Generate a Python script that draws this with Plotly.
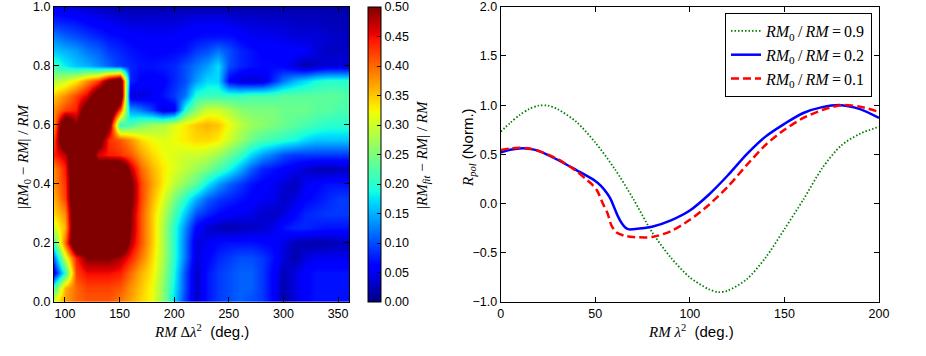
import plotly.graph_objects as go

W, H = 926, 356

# ---------------- left panel: |RM_fit - RM| / RM map ----------------
rm_dlam2 = [90, 100, 110, 120, 130, 140, 150, 160, 170, 180, 190, 200, 210, 220,
            230, 240, 250, 260, 270, 280, 290, 300, 310, 320, 330, 340, 350, 360]
rm_ratio = [1.0, 0.95, 0.9, 0.85, 0.8, 0.75, 0.7, 0.65, 0.6, 0.55, 0.5,
            0.45, 0.4, 0.35, 0.3, 0.25, 0.2, 0.15, 0.1, 0.05, 0.0]
# one row per rm_ratio value (top of the map first)
fit_err = [
    [0.05, 0.045, 0.04, 0.035, 0.03, 0.025, 0.02, 0.02, 0.02, 0.02, 0.02, 0.02, 0.02, 0.02,
     0.02, 0.02, 0.02, 0.02, 0.02, 0.02, 0.02, 0.02, 0.02, 0.02, 0.02, 0.02, 0.02, 0.02],
    [0.08, 0.075, 0.07, 0.06, 0.055, 0.05, 0.045, 0.04, 0.04, 0.04, 0.04, 0.04, 0.045, 0.05,
     0.05, 0.05, 0.045, 0.04, 0.04, 0.035, 0.035, 0.035, 0.03, 0.03, 0.03, 0.025, 0.025, 0.025],
    [0.125, 0.11, 0.1, 0.09, 0.08, 0.07, 0.065, 0.06, 0.055, 0.055, 0.055, 0.055, 0.06, 0.065,
     0.07, 0.07, 0.07, 0.06, 0.05, 0.05, 0.05, 0.045, 0.04, 0.04, 0.04, 0.035, 0.03, 0.03],
    [0.16, 0.15, 0.14, 0.12, 0.11, 0.09, 0.08, 0.07, 0.065, 0.06, 0.06, 0.065, 0.07, 0.09,
     0.1, 0.12, 0.1, 0.08, 0.07, 0.06, 0.06, 0.06, 0.06, 0.055, 0.04, 0.03, 0.03, 0.03],
    [0.21, 0.18, 0.16, 0.15, 0.13, 0.11, 0.09, 0.08, 0.07, 0.07, 0.075, 0.08, 0.1, 0.12,
     0.14, 0.17, 0.1, 0.08, 0.07, 0.065, 0.065, 0.06, 0.04, 0.02, 0.03, 0.04, 0.04, 0.04],
    [0.28, 0.3, 0.33, 0.38, 0.42, 0.52, 0.58, 0.08, 0.06, 0.055, 0.06, 0.08, 0.1, 0.14,
     0.17, 0.17, 0.06, 0.04, 0.035, 0.04, 0.08, 0.12, 0.15, 0.17, 0.19, 0.2, 0.2, 0.2],
    [0.35, 0.38, 0.42, 0.46, 0.56, 0.6, 0.6, 0.04, 0.04, 0.05, 0.07, 0.09, 0.12, 0.2,
     0.21, 0.21, 0.21, 0.21, 0.22, 0.22, 0.22, 0.23, 0.23, 0.23, 0.23, 0.23, 0.23, 0.22],
    [0.38, 0.42, 0.44, 0.55, 0.6, 0.6, 0.42, 0.14, 0.12, 0.09, 0.04, 0.05, 0.2, 0.26,
     0.3, 0.3, 0.28, 0.26, 0.25, 0.25, 0.25, 0.24, 0.24, 0.24, 0.23, 0.23, 0.22, 0.22],
    [0.38, 0.6, 0.5, 0.6, 0.6, 0.52, 0.2, 0.22, 0.25, 0.27, 0.28, 0.31, 0.33, 0.35,
     0.36, 0.35, 0.32, 0.29, 0.27, 0.26, 0.25, 0.24, 0.23, 0.22, 0.21, 0.2, 0.2, 0.2],
    [0.42, 0.6, 0.6, 0.6, 0.55, 0.43, 0.41, 0.38, 0.34, 0.32, 0.31, 0.32, 0.33, 0.34,
     0.34, 0.33, 0.3, 0.27, 0.24, 0.22, 0.21, 0.2, 0.19, 0.17, 0.16, 0.16, 0.16, 0.16],
    [0.44, 0.47, 0.6, 0.6, 0.46, 0.44, 0.43, 0.41, 0.37, 0.34, 0.32, 0.31, 0.3, 0.3,
     0.29, 0.27, 0.24, 0.21, 0.17, 0.14, 0.12, 0.1, 0.09, 0.09, 0.09, 0.09, 0.09, 0.09],
    [0.38, 0.44, 0.6, 0.58, 0.55, 0.6, 0.6, 0.48, 0.4, 0.36, 0.33, 0.31, 0.29, 0.27,
     0.25, 0.22, 0.19, 0.15, 0.11, 0.08, 0.07, 0.06, 0.05, 0.035, 0.025, 0.02, 0.025, 0.03],
    [0.38, 0.43, 0.6, 0.6, 0.6, 0.6, 0.6, 0.52, 0.42, 0.37, 0.33, 0.29, 0.26, 0.23,
     0.18, 0.14, 0.11, 0.09, 0.07, 0.06, 0.05, 0.04, 0.025, 0.05, 0.06, 0.07, 0.07, 0.07],
    [0.36, 0.42, 0.6, 0.6, 0.6, 0.6, 0.6, 0.52, 0.42, 0.36, 0.31, 0.25, 0.2, 0.15,
     0.11, 0.09, 0.08, 0.07, 0.06, 0.05, 0.05, 0.03, 0.04, 0.06, 0.07, 0.08, 0.09, 0.09],
    [0.34, 0.38, 0.6, 0.6, 0.6, 0.6, 0.6, 0.5, 0.41, 0.35, 0.29, 0.22, 0.16, 0.1,
     0.08, 0.065, 0.055, 0.05, 0.045, 0.035, 0.03, 0.04, 0.06, 0.08, 0.085, 0.09, 0.09, 0.09],
    [0.3, 0.36, 0.6, 0.6, 0.6, 0.6, 0.6, 0.5, 0.41, 0.35, 0.28, 0.2, 0.13, 0.06,
     0.035, 0.025, 0.02, 0.025, 0.03, 0.035, 0.045, 0.07, 0.08, 0.08, 0.075, 0.07, 0.07, 0.07],
    [0.22, 0.4, 0.6, 0.6, 0.6, 0.6, 0.6, 0.48, 0.41, 0.35, 0.28, 0.2, 0.12, 0.04,
     0.05, 0.065, 0.07, 0.07, 0.07, 0.065, 0.06, 0.045, 0.025, 0.02, 0.02, 0.02, 0.025, 0.03],
    [0.12, 0.3, 0.44, 0.5, 0.5, 0.5, 0.48, 0.44, 0.39, 0.34, 0.28, 0.2, 0.12, 0.04,
     0.06, 0.08, 0.09, 0.1, 0.1, 0.09, 0.07, 0.04, 0.02, 0.04, 0.05, 0.05, 0.05, 0.05],
    [0.05, 0.2, 0.42, 0.45, 0.45, 0.45, 0.44, 0.4, 0.36, 0.33, 0.27, 0.19, 0.1, 0.03,
     0.07, 0.09, 0.1, 0.11, 0.11, 0.09, 0.06, 0.025, 0.04, 0.06, 0.07, 0.07, 0.07, 0.07],
    [0.22, 0.36, 0.4, 0.42, 0.42, 0.42, 0.41, 0.38, 0.35, 0.32, 0.26, 0.18, 0.1, 0.03,
     0.07, 0.09, 0.1, 0.11, 0.11, 0.09, 0.06, 0.02, 0.04, 0.06, 0.07, 0.07, 0.07, 0.07],
    [0.32, 0.37, 0.4, 0.41, 0.41, 0.41, 0.39, 0.37, 0.34, 0.32, 0.26, 0.17, 0.09, 0.03,
     0.07, 0.09, 0.1, 0.11, 0.1, 0.09, 0.06, 0.02, 0.04, 0.06, 0.07, 0.07, 0.07, 0.07],
]

# ---------------- right panel: normalised polarised intensity ----------------
x_09 = [0, 5, 10, 15, 20, 25, 30, 40, 50, 60, 70, 80, 90, 100, 110, 115, 120,
        130, 140, 150, 160, 170, 180, 190, 200]
r_09 = [0.73, 0.82, 0.9, 0.96, 0.995, 0.995, 0.96, 0.83, 0.62, 0.36, 0.05, -0.29,
        -0.55, -0.75, -0.87, -0.9, -0.885, -0.77, -0.55, -0.26, 0.04, 0.36, 0.59, 0.71, 0.78]

x_02 = [0, 5, 10, 15, 20, 30, 40, 50, 53, 56, 58, 60, 62, 64, 66, 68, 70, 80, 90,
        100, 110, 120, 130, 140, 150, 160, 170, 180, 190, 200]
r_02 = [0.52, 0.547, 0.56, 0.557, 0.535, 0.445, 0.34, 0.23, 0.18, 0.11, 0.05, -0.04,
        -0.13, -0.2, -0.245, -0.262, -0.26, -0.235, -0.17, -0.07, 0.09, 0.285, 0.5,
        0.68, 0.81, 0.92, 0.98, 1.0, 0.96, 0.87]

x_01 = [0, 5, 10, 15, 20, 30, 40, 45, 48, 51, 54, 56.5, 58.5, 61, 65, 70, 80, 90,
        100, 110, 120, 130, 140, 150, 160, 170, 180, 190, 200]
r_01 = [0.544, 0.56, 0.567, 0.56, 0.534, 0.453, 0.33, 0.25, 0.2, 0.13, 0.0, -0.1,
        -0.22, -0.29, -0.325, -0.34, -0.34, -0.28, -0.165, -0.014, 0.17, 0.39, 0.595,
        0.75, 0.87, 0.95, 1.0, 0.985, 0.93]

SERIF = "Liberation Serif"
SANS = "Liberation Sans"

# matplotlib "jet"
jet = [
    [0.0, "rgb(0,0,128)"], [0.11, "rgb(0,0,255)"], [0.125, "rgb(0,0,255)"],
    [0.34, "rgb(0,219,255)"], [0.35, "rgb(0,229,247)"], [0.375, "rgb(20,255,226)"],
    [0.64, "rgb(238,255,8)"], [0.65, "rgb(247,246,0)"], [0.66, "rgb(255,236,0)"],
    [0.89, "rgb(255,19,0)"], [0.91, "rgb(232,0,0)"], [1.0, "rgb(128,0,0)"],
]


def px_x(p):
    # page pixel -> paper fraction
    return p / W


def px_y(p):
    return 1 - p / H


fig = go.Figure()

fig.add_trace(go.Heatmap(
    x=rm_dlam2, y=rm_ratio[::-1], z=fit_err[::-1],
    zmin=0, zmax=0.5, colorscale=jet, zsmooth="best",
    colorbar=dict(
        x=px_x(368), xanchor="left", y=px_y(302), yanchor="bottom",
        len=(302 - 6.7) / H, lenmode="fraction",
        thickness=13, thicknessmode="pixels", xpad=0, ypad=0,
        outlinewidth=1, outlinecolor="black",
        ticks="inside", ticklen=4, tickcolor="black",
        tickvals=[i * 0.05 for i in range(11)], tickformat=".2f",
        tickfont=dict(family=SANS, size=12.5, color="black"),
    ),
    hoverinfo="skip",
))

line_specs = [
    (x_09, r_09, "0.9", dict(color="#008000", width=1.8, dash="1.5px,2px")),
    (x_02, r_02, "0.2", dict(color="#0000ff", width=2.5)),
    (x_01, r_01, "0.1", dict(color="#ff0000", width=2.5, dash="8px,4px")),
]
for xs, ys, lab, ln in line_specs:
    fig.add_trace(go.Scatter(
        x=xs, y=ys, mode="lines", xaxis="x2", yaxis="y2",
        name=f"<i>RM</i><sub>0</sub>\u2009/\u2009<i>RM</i>\u2009=\u2009{lab}",
        line=dict(shape="spline", smoothing=0.8, **ln),
    ))

axis_common = dict(
    showline=True, linecolor="black", linewidth=1, mirror="ticks",
    ticks="inside", ticklen=5, tickcolor="black", showgrid=False, zeroline=False,
    tickfont=dict(family=SANS, size=12.5, color="black"), automargin=False,
)
y_dom = [px_y(302), px_y(6.7)]

fig.update_layout(
    width=W, height=H,
    margin=dict(l=0, r=0, t=0, b=0),
    paper_bgcolor="white", plot_bgcolor="white",
    xaxis=dict(domain=[px_x(54), px_x(349)], range=[90, 360], anchor="y",
               tickvals=[100, 150, 200, 250, 300, 350], **axis_common),
    yaxis=dict(domain=y_dom, range=[0, 1], anchor="x",
               tickvals=[0, 0.2, 0.4, 0.6, 0.8, 1.0], tickformat=".1f", **axis_common),
    xaxis2=dict(domain=[px_x(500.7), px_x(879)], range=[0, 200], anchor="y2",
                tickvals=[0, 50, 100, 150, 200], **axis_common),
    yaxis2=dict(domain=y_dom, range=[-1, 2], anchor="x2",
                tickvals=[-1, -0.5, 0, 0.5, 1, 1.5, 2], tickformat=".1f", **axis_common),
    showlegend=True,
    legend=dict(
        x=px_x(872), xanchor="right", y=px_y(13), yanchor="top",
        bordercolor="black", borderwidth=1, bgcolor="white",
        font=dict(family=SERIF, size=16, color="black"),
        tracegroupgap=0, itemwidth=30,
    ),
)

serif = f'<span style="font-family:{SERIF}">'
titles = [
    (201, 331, 0, serif + "<i>RM</i> Δ<i>λ</i><sup>2</sup></span>  (deg.)"),
    (691, 331, 0, serif + "<i>RM</i> <i>λ</i><sup>2</sup></span>  (deg.)"),
    (24, 157, -90, serif + "|<i>RM</i><sub>0</sub> − <i>RM</i>| / <i>RM</i></span>"),
    (423, 155, -90, serif + "|<i>RM</i><sub><i>fit</i></sub> − <i>RM</i>| / <i>RM</i></span>"),
    (468, 148, -90, serif + "<i>R</i><sub><i>pol</i></sub></span> (Norm.)"),
]
for tx, ty, ang, txt in titles:
    fig.add_annotation(
        x=px_x(tx), y=px_y(ty), xref="paper", yref="paper",
        text=txt, textangle=ang, showarrow=False,
        xanchor="center", yanchor="middle",
        font=dict(family=SANS, size=15, color="black"),
    )

# the page body's default 8px margin would shift the whole figure
fig.write_html("out.html", config={"displayModeBar": False},
               post_script="document.body.style.margin='0px';")
